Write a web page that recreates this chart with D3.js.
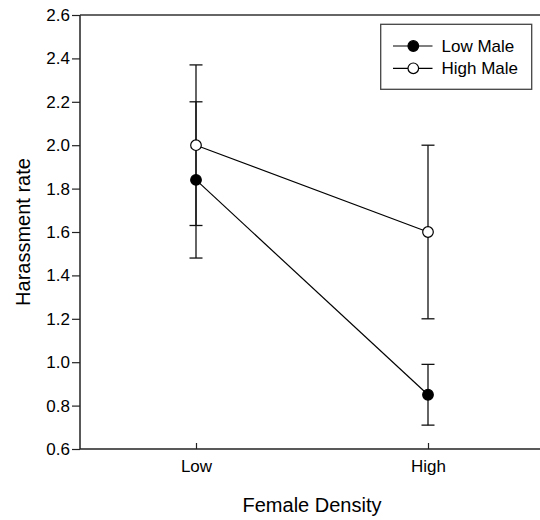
<!DOCTYPE html>
<html><head><meta charset="utf-8">
<script src="https://cdn.jsdelivr.net/npm/d3@7"></script>
<style>body{margin:0;background:#fff}svg{display:block}text{font-family:"Liberation Sans",Arial,sans-serif;fill:#000}</style>
</head><body><svg id="c" width="540" height="520"></svg>
<script>
const categories = ["Low", "High"];
const seriesNames = ["Low Male", "High Male"];
const lowMaleMean = [1.84, 0.85];
const lowMaleErr = [0.36, 0.14];
const highMaleMean = [2.0, 1.6];
const highMaleErr = [0.37, 0.40];
const yTicks = [0.6, 0.8, 1.0, 1.2, 1.4, 1.6, 1.8, 2.0, 2.2, 2.4, 2.6];

const series = [
  {name: seriesNames[0], mean: lowMaleMean, err: lowMaleErr, fill: "#000"},
  {name: seriesNames[1], mean: highMaleMean, err: highMaleErr, fill: "#fff"}
];

const svg = d3.select("#c");
const L = 80, T = 15, R = 544, B = 449;
const x = d3.scalePoint().domain(categories).range([L, R]).padding(0.5);
const y = d3.scaleLinear().domain([0.6, 2.6]).range([B, T]);

// axes
const gy = svg.append("g").attr("transform", `translate(${L},0)`)
  .call(d3.axisLeft(y).tickValues(yTicks).tickFormat(d3.format(".1f")).tickSize(8).tickPadding(2));
gy.select(".domain").remove();
gy.selectAll("line").attr("stroke", "#222").attr("stroke-width", 1.2);
gy.selectAll("text").attr("font-size", 17).attr("fill", "#000").attr("font-family", "Liberation Sans, Arial, sans-serif");

const gx = svg.append("g").attr("transform", `translate(0,${B})`)
  .call(d3.axisBottom(x).tickSize(-6).tickPadding(11));
gx.select(".domain").remove();
gx.selectAll("line").attr("stroke", "#222").attr("stroke-width", 1.2);
gx.selectAll("text").attr("font-size", 17).attr("fill", "#000").attr("font-family", "Liberation Sans, Arial, sans-serif");

// frame lines (left, top, bottom)
svg.append("line").attr("x1", L).attr("x2", L).attr("y1", T).attr("y2", B).attr("stroke", "#222").attr("stroke-width", 1.5);
svg.append("line").attr("x1", L).attr("x2", 540).attr("y1", T).attr("y2", T).attr("stroke", "#333").attr("stroke-width", 1.5);
svg.append("line").attr("x1", L).attr("x2", 540).attr("y1", B).attr("y2", B).attr("stroke", "#222").attr("stroke-width", 1.5);

// error bars
const capW = 6.5;
series.forEach(s => {
  const g = svg.append("g");
  categories.forEach((c, i) => {
    const cx = x(c), lo = y(s.mean[i] - s.err[i]), hi = y(s.mean[i] + s.err[i]);
    g.append("line").attr("x1", cx).attr("x2", cx).attr("y1", lo).attr("y2", hi).attr("stroke", "#111").attr("stroke-width", 1.3);
    [lo, hi].forEach(yy => g.append("line").attr("x1", cx - capW).attr("x2", cx + capW).attr("y1", yy).attr("y2", yy).attr("stroke", "#111").attr("stroke-width", 1.3));
  });
});

// lines
const line = d3.line().x((d, i) => x(categories[i])).y(d => y(d));
series.forEach(s => {
  svg.append("path").attr("d", line(s.mean)).attr("fill", "none").attr("stroke", "#000").attr("stroke-width", 1.2);
});
// markers
series.forEach(s => {
  svg.append("g").selectAll("circle").data(s.mean).join("circle")
    .attr("cx", (d, i) => x(categories[i])).attr("cy", d => y(d)).attr("r", 5.3)
    .attr("fill", s.fill).attr("stroke", "#000").attr("stroke-width", 1.2);
});

// axis titles
svg.append("text").attr("transform", `translate(29.5,${(T + B) / 2}) rotate(-90)`)
  .attr("text-anchor", "middle").attr("font-size", 20).text("Harassment rate");
svg.append("text").attr("x", 312).attr("y", 511.5).attr("text-anchor", "middle").attr("font-size", 20).text("Female Density");

// legend
const lg = svg.append("g");
lg.append("rect").attr("x", 380.7).attr("y", 24.3).attr("width", 151).attr("height", 65).attr("fill", "#fff").attr("stroke", "#444").attr("stroke-width", 1.3);
const rowY = [46, 68.3];
series.forEach((s, i) => {
  lg.append("line").attr("x1", 393).attr("x2", 432.5).attr("y1", rowY[i]).attr("y2", rowY[i]).attr("stroke", "#000").attr("stroke-width", 1.2);
  lg.append("circle").attr("cx", 413.3).attr("cy", rowY[i]).attr("r", 5.3).attr("fill", s.fill).attr("stroke", "#000").attr("stroke-width", 1.2);
  lg.append("text").attr("x", 441.5).attr("y", rowY[i] + 6).attr("font-size", 17).text(s.name);
});
</script></body></html>
